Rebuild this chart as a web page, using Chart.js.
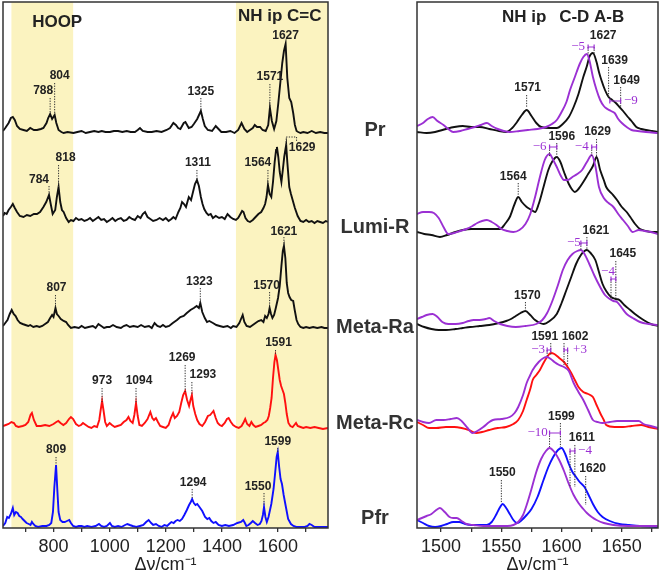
<!DOCTYPE html>
<html>
<head>
<meta charset="utf-8">
<script src="https://cdn.jsdelivr.net/npm/chart.js@4.4.1/dist/chart.umd.min.js"></script>
<style>
html, body { margin: 0; padding: 0; background: #fff; }
#wrap { position: relative; width: 661px; height: 574px; }
#left { position: absolute; left: 0; top: 0; }
#right { position: absolute; left: 330px; top: 0; }
</style>
</head>
<body>
<div id="wrap">
<canvas id="left" width="330" height="574"></canvas>
<canvas id="right" width="331" height="574"></canvas>
</div>
<script>
// ---- data: [wavenumber, intensity] pairs ----
const prLeft = [[620,2],[628,5],[640,10],[648,15],[655,16],[662,13],[670,7],[680,4],[693,3],[705,2],[717,5],[730,3],[741,3],[755,4],[764,5],[775,10],[781,15],[788,19],[795,14],[804,18],[810,10],[818,3],[828,1],[836,0],[850,1],[871,0],[885,1],[900,2],[915,0],[930,1],[945,2],[960,1],[972,2],[985,1],[1001,1],[1015,2],[1030,2],[1045,1],[1061,2],[1075,1],[1090,1],[1100,3],[1108,5],[1118,2],[1135,1],[1150,1],[1167,2],[1185,1],[1203,3],[1215,5],[1227,10],[1236,8],[1244,5],[1252,4],[1264,10],[1270,11],[1282,5],[1292,6],[1300,9],[1312,14],[1325,22],[1332,14],[1339,7],[1350,3],[1365,2],[1378,7],[1388,4],[1398,1],[1415,1],[1430,2],[1445,0],[1458,3],[1470,10],[1480,4],[1490,1],[1500,3],[1510,5],[1517,8],[1525,6],[1536,6],[1545,3],[1556,2],[1565,8],[1571,25],[1578,12],[1586,4],[1594,12],[1601,30],[1608,50],[1615,70],[1621,82],[1627,89],[1633,55],[1640,35],[1647,31],[1654,20],[1660,8],[1666,2],[1672,1],[1680,0],[1690,1],[1705,0],[1720,2],[1735,0],[1750,1],[1765,0],[1778,0]];
const lumiLeft = [[620,6],[626,9],[633,8],[640,12],[648,15],[655,18],[662,14],[670,10],[680,6],[693,5],[705,7],[717,6],[730,8],[741,8],[752,10],[764,15],[774,20],[784,27],[790,18],[797,8],[806,12],[812,25],[818,35],[824,20],[830,12],[836,10],[845,4],[854,0],[862,2],[871,1],[880,4],[890,2],[900,3],[910,1],[920,2],[930,4],[940,1],[950,3],[960,5],[970,2],[980,3],[990,0],[1001,2],[1010,4],[1020,1],[1030,3],[1040,4],[1050,1],[1060,2],[1070,5],[1080,3],[1090,2],[1100,6],[1110,4],[1118,8],[1126,10],[1135,5],[1145,3],[1155,1],[1167,2],[1178,4],[1190,2],[1200,4],[1210,1],[1220,3],[1227,5],[1235,3],[1245,10],[1252,14],[1258,20],[1265,18],[1272,15],[1282,25],[1290,22],[1297,30],[1304,38],[1311,42],[1318,36],[1325,25],[1331,18],[1337,13],[1345,9],[1352,7],[1360,8],[1368,4],[1378,6],[1390,4],[1400,5],[1410,3],[1420,8],[1430,5],[1440,3],[1450,2],[1458,4],[1466,8],[1472,11],[1477,10],[1484,4],[1492,1],[1500,0],[1510,2],[1520,5],[1530,8],[1540,10],[1548,14],[1554,18],[1559,25],[1564,37],[1570,28],[1576,25],[1582,40],[1588,60],[1593,72],[1596,75],[1601,65],[1606,50],[1612,40],[1617,52],[1622,65],[1626,72],[1629,77],[1633,60],[1640,35],[1646,28],[1652,22],[1660,14],[1670,6],[1680,1],[1690,0],[1700,2],[1710,0],[1720,1],[1730,-1],[1740,1],[1750,0],[1760,-1],[1770,1],[1778,0]];
const metaRaLeft = [[620,2],[628,5],[636,8],[644,14],[651,18],[658,14],[665,12],[672,8],[681,5],[690,4],[700,3],[710,2],[717,3],[728,1],[740,2],[750,1],[760,2],[770,4],[780,6],[788,10],[795,13],[800,11],[807,20],[812,14],[818,12],[826,9],[836,7],[845,6],[852,3],[862,0],[875,1],[890,0],[900,2],[912,0],[925,1],[940,2],[950,0],[960,4],[970,2],[980,0],[990,1],[1000,1],[1012,3],[1025,1],[1040,0],[1050,2],[1060,3],[1072,1],[1085,2],[1100,1],[1112,3],[1125,1],[1140,2],[1150,0],[1160,5],[1170,2],[1180,1],[1190,3],[1200,1],[1212,2],[1225,5],[1240,8],[1252,11],[1264,12],[1275,15],[1288,18],[1300,20],[1310,22],[1318,20],[1323,25],[1330,16],[1339,10],[1347,6],[1355,7],[1368,5],[1380,3],[1392,2],[1405,1],[1420,2],[1432,0],[1440,2],[1452,1],[1462,5],[1468,9],[1474,13],[1480,6],[1488,2],[1500,1],[1510,3],[1520,5],[1530,7],[1540,8],[1548,6],[1554,12],[1560,10],[1566,14],[1570,20],[1575,14],[1580,10],[1586,13],[1592,20],[1600,30],[1606,42],[1612,62],[1617,77],[1621,82],[1626,70],[1631,45],[1636,35],[1641,31],[1647,28],[1654,27],[1660,17],[1666,8],[1672,4],[1680,1],[1690,0],[1700,1],[1712,0],[1725,1],[1740,0],[1755,1],[1765,0],[1778,0]];
const metaRcLeft = [[620,2],[630,3],[640,4],[650,6],[659,5],[666,2],[675,1],[690,2],[700,3],[710,6],[718,13],[723,15],[730,8],[740,2],[755,2],[770,3],[785,2],[800,4],[810,6],[817,7],[825,5],[835,3],[845,5],[855,9],[862,11],[870,9],[880,4],[890,2],[898,3],[905,5],[915,3],[925,1],[935,0],[945,2],[955,1],[963,8],[968,18],[973,27],[978,18],[984,6],[990,2],[1000,5],[1008,3],[1018,1],[1028,2],[1040,3],[1050,6],[1060,8],[1067,11],[1074,7],[1082,5],[1088,13],[1094,25],[1100,12],[1106,3],[1115,2],[1125,5],[1135,9],[1145,16],[1152,10],[1158,8],[1165,10],[1172,6],[1180,2],[1190,1],[1200,0],[1210,3],[1218,10],[1226,15],[1232,10],[1240,12],[1248,16],[1255,25],[1262,33],[1269,37],[1276,28],[1283,22],[1288,28],[1293,33],[1298,22],[1305,14],[1312,8],[1320,4],[1330,2],[1340,6],[1350,12],[1358,13],[1364,15],[1370,17],[1378,10],[1385,5],[1392,3],[1400,2],[1410,5],[1418,9],[1424,10],[1432,6],[1440,3],[1450,1],[1460,0],[1470,2],[1478,6],[1483,9],[1490,4],[1498,2],[1505,6],[1512,3],[1520,1],[1530,2],[1540,3],[1548,5],[1555,6],[1562,8],[1567,12],[1572,20],[1577,30],[1582,50],[1587,66],[1591,73],[1596,68],[1601,58],[1606,48],[1611,42],[1616,38],[1621,34],[1626,25],[1631,14],[1637,5],[1644,2],[1652,1],[1658,3],[1664,5],[1670,2],[1680,1],[1690,0],[1700,1],[1715,0],[1730,1],[1745,0],[1760,-1],[1778,0]];
const pfrLeft = [[620,1],[628,4],[635,10],[641,9],[648,13],[655,19],[660,12],[666,15],[672,14],[678,11],[684,10],[690,8],[697,6],[704,4],[712,3],[718,2],[723,5],[728,3],[735,1],[745,0],[760,1],[775,1],[785,2],[792,4],[798,15],[803,40],[809,62],[814,35],[818,15],[824,7],[832,5],[840,5],[848,6],[856,7],[862,4],[870,1],[880,0],[890,1],[900,1],[910,0],[920,1],[935,0],[950,1],[962,3],[970,1],[980,0],[990,1],[1001,4],[1008,1],[1018,0],[1030,1],[1042,0],[1055,2],[1063,3],[1072,2],[1082,1],[1095,0],[1108,1],[1120,2],[1130,5],[1139,7],[1148,4],[1155,2],[1165,3],[1175,1],[1185,0],[1195,2],[1205,1],[1212,3],[1220,5],[1228,4],[1235,6],[1242,7],[1250,6],[1258,8],[1266,12],[1275,17],[1283,22],[1289,25],[1294,28],[1300,24],[1306,22],[1312,23],[1320,20],[1330,16],[1340,10],[1348,8],[1355,9],[1362,6],[1370,4],[1378,5],[1388,2],[1400,1],[1412,2],[1425,1],[1440,2],[1455,4],[1468,5],[1476,7],[1482,4],[1487,1],[1495,2],[1503,4],[1510,6],[1518,4],[1527,2],[1535,3],[1541,6],[1546,12],[1550,20],[1555,10],[1560,5],[1566,10],[1576,23],[1584,38],[1590,55],[1595,70],[1599,75],[1604,60],[1609,48],[1614,43],[1620,32],[1628,20],[1636,8],[1646,3],[1655,1],[1665,0],[1680,0],[1695,0],[1705,1],[1712,3],[1720,2],[1730,0],[1745,0],[1760,0],[1778,0]];

const prRight = [[1480,0],[1488,-1],[1495,0],[1504,3],[1511,5],[1518,6],[1525,5],[1532,5],[1540,3],[1548,1],[1554,0],[1559,4],[1563,10],[1567,17],[1571,22],[1575,16],[1579,9],[1583,5],[1590,4],[1596,4],[1601,8],[1606,15],[1610,25],[1614,38],[1618,55],[1621,66],[1623,75],[1626,79],[1629,70],[1631,60],[1633,52],[1636,42],[1639,35],[1642,32],[1645,29],[1648,25],[1651,21],[1655,15],[1658,11],[1662,5],[1666,3],[1670,2],[1675,1],[1680,0]];
const prRightRef = [[1480,6],[1485,9],[1489,13],[1493,15],[1497,11],[1502,7],[1506,3],[1510,0],[1516,1],[1522,3],[1528,5],[1533,7],[1538,9],[1542,6],[1547,3],[1552,1],[1557,0],[1565,1],[1572,2],[1580,3],[1587,5],[1592,8],[1596,12],[1600,20],[1604,30],[1607,42],[1611,55],[1615,68],[1618,75],[1621,78],[1623,72],[1626,55],[1629,42],[1632,32],[1635,26],[1638,23],[1641,21],[1644,19],[1647,13],[1650,9],[1654,5],[1658,2],[1663,1],[1670,0],[1680,-1]];
const lumiRight = [[1480,0],[1486,-2],[1492,-3],[1499,-5],[1505,-3],[1512,0],[1518,2],[1525,3],[1532,3],[1540,3],[1549,3],[1553,8],[1557,15],[1561,28],[1564,35],[1567,30],[1571,25],[1575,22],[1578,20],[1581,28],[1585,45],[1589,62],[1592,70],[1596,75],[1599,70],[1602,60],[1606,48],[1609,42],[1611,40],[1614,43],[1618,50],[1622,58],[1626,66],[1629,75],[1632,62],[1635,52],[1637,45],[1642,38],[1646,32],[1650,25],[1654,20],[1657,15],[1661,8],[1665,3],[1670,1],[1675,0],[1680,0]];
const lumiRightRef = [[1480,18],[1485,20],[1490,20],[1494,19],[1498,14],[1502,5],[1506,-2],[1511,-1],[1516,1],[1521,3],[1526,6],[1530,9],[1534,11],[1538,12],[1542,10],[1546,7],[1550,3],[1555,1],[1560,0],[1565,2],[1570,8],[1574,18],[1578,35],[1582,55],[1586,72],[1590,78],[1593,72],[1596,65],[1599,57],[1602,52],[1605,52],[1609,55],[1613,58],[1617,62],[1621,70],[1625,77],[1628,66],[1631,45],[1635,34],[1639,29],[1643,25],[1647,18],[1651,12],[1655,6],[1659,0],[1664,2],[1669,1],[1674,0],[1680,-2]];
const metaRaRight = [[1480,3],[1486,0],[1492,-2],[1498,-3],[1504,-3],[1512,-2],[1518,-1],[1524,0],[1532,1],[1540,2],[1548,4],[1554,6],[1558,8],[1562,11],[1566,14],[1570,16],[1574,12],[1578,7],[1582,4],[1585,3],[1590,6],[1596,13],[1600,24],[1604,37],[1608,50],[1612,63],[1616,72],[1619,76],[1621,77],[1624,74],[1628,67],[1631,55],[1634,43],[1637,36],[1641,30],[1645,28],[1648,27],[1652,22],[1657,17],[1662,12],[1668,7],[1674,3],[1680,1]];
const metaRaRightRef = [[1480,8],[1484,10],[1488,12],[1493,13],[1497,10],[1501,5],[1506,3],[1512,3],[1518,4],[1523,6],[1527,7],[1532,7],[1537,8],[1540,9],[1544,6],[1549,3],[1555,1],[1562,0],[1570,1],[1579,3],[1584,7],[1588,14],[1592,25],[1597,42],[1601,57],[1605,67],[1609,73],[1613,76],[1616,77],[1619,73],[1623,63],[1627,52],[1632,40],[1636,32],[1640,28],[1643,26],[1646,25],[1650,19],[1654,13],[1659,9],[1665,5],[1672,3],[1680,2]];
const metaRcRight = [[1480,3],[1485,0],[1490,-3],[1496,-3],[1504,-2],[1511,-2],[1517,-3],[1523,-5],[1529,-8],[1534,-7],[1540,-5],[1547,-3],[1554,-2],[1560,1],[1564,5],[1568,14],[1571,25],[1574,36],[1576,45],[1579,50],[1582,55],[1585,62],[1588,68],[1591,72],[1594,71],[1598,67],[1602,63],[1605,58],[1608,52],[1611,45],[1614,38],[1618,33],[1622,31],[1626,28],[1629,20],[1632,12],[1635,5],[1637,0],[1644,-2],[1651,-2],[1658,-1],[1666,0],[1672,-2],[1680,-4]];
const metaRcRightRef = [[1480,5],[1485,3],[1490,2],[1496,5],[1502,5],[1508,6],[1513,7],[1517,4],[1522,-3],[1526,-8],[1530,-6],[1535,-2],[1540,3],[1543,5],[1550,6],[1557,8],[1561,12],[1564,18],[1568,30],[1571,42],[1574,50],[1576,55],[1581,63],[1585,67],[1588,68],[1591,66],[1594,63],[1598,60],[1602,58],[1606,54],[1610,42],[1614,33],[1618,25],[1622,15],[1626,5],[1630,3],[1634,2],[1640,3],[1646,4],[1652,4],[1658,4],[1664,4],[1668,1],[1674,-1],[1680,-3]];
const pfrRight = [[1480,7],[1485,4],[1490,1],[1495,0],[1500,1],[1505,3],[1510,5],[1515,5],[1520,3],[1525,2],[1532,2],[1538,2],[1542,5],[1546,13],[1549,20],[1551,23],[1554,19],[1557,13],[1560,7],[1563,4],[1567,7],[1571,12],[1575,18],[1580,30],[1585,47],[1589,60],[1593,70],[1597,77],[1600,79],[1603,73],[1606,63],[1609,55],[1612,50],[1615,45],[1619,40],[1622,33],[1626,23],[1630,15],[1634,10],[1640,6],[1648,3],[1656,2],[1665,1],[1680,0]];
const pfrRightRef = [[1480,7],[1484,9],[1488,11],[1492,13],[1496,17],[1499,19],[1503,15],[1507,10],[1510,9],[1513,9],[1517,6],[1521,3],[1527,2],[1535,1],[1545,1],[1555,1],[1560,2],[1564,5],[1568,12],[1571,22],[1575,38],[1579,55],[1583,68],[1587,76],[1590,79],[1594,75],[1598,67],[1602,56],[1606,43],[1610,32],[1614,24],[1618,18],[1621,14],[1625,10],[1629,7],[1635,4],[1643,2],[1655,1],[1665,1],[1680,1]];

const states = ['Pr', 'Lumi-R', 'Meta-Ra', 'Meta-Rc', 'Pfr'];
const leftTicks = [700, 800, 900, 1000, 1100, 1200, 1300, 1400, 1500, 1600, 1700];
const leftTickLabels = [800, 1000, 1200, 1400, 1600];
const rightTicks = [1500, 1525, 1550, 1575, 1600, 1625, 1650, 1675];
const rightTickLabels = [1500, 1550, 1600, 1650];
const bands = [[650, 870], [1450, 1778]];

// vertical stacking offset of each trace (same units as the y scale: 1 unit = 1 px)
const leftOffsets = [395, 306, 200, 100, 1];
const rightOffsets = [396, 296, 201, 103, 1];
const stateLabelY = [398, 301, 201, 105, 10];

// peak labels: text, wavenumber, label dx (px), label y, dotted line top, dotted line bottom
const leftPeaks = [
  ['788', 788, -7, 437, 430, 414], ['804', 804, 5, 452, 445, 414],
  ['1325', 1325, 0, 436, 430, 417], ['1571', 1571, 0, 451, 444, 420], ['1627', 1627, 0, 492, null, null],
  ['784', 784, -10, 348, 342, 333], ['818', 818, 7, 370, 363, 341],
  ['1311', 1311, 1, 365, 358, 348], ['1564', 1564, -10, 365, 358, 343], ['1629', 1629, 16, 380, null, null],
  ['807', 807, 1, 240, 233, 220], ['1323', 1323, -1, 246, 240, 225],
  ['1570', 1570, -3, 242, 236, 220], ['1621', 1621, 0, 296, 291, 282],
  ['973', 973, 0, 147, 140, 126], ['1094', 1094, 3, 147, 140, 125], ['1269', 1269, -3, 170, 163, 136],
  ['1293', 1293, 11, 153, 146, 133], ['1591', 1591, 3, 185, 178, 173],
  ['809', 809, 0, 78, 71, 63], ['1294', 1294, 1, 45, 39, 30], ['1550', 1550, -6, 41, 35, 23], ['1599', 1599, 0, 86, 80, 76]
];
const rightPeaks = [
  ['1627', 1627, 9, 492, 481, 473], ['1639', 1639, 6, 467, 461, 431], ['1649', 1649, 6, 447, 441, 420],
  ['1571', 1571, 1, 440, 433, 420],
  ['1596', 1596, 5, 391, 385, 371], ['1629', 1629, 1, 396, 389, 371], ['1564', 1564, -5, 351, 345, 333],
  ['1621', 1621, 9, 297, 291, 278], ['1645', 1645, 7, 274, 267, 228], ['1570', 1570, 2, 232, 226, 217],
  ['1591', 1591, -6, 191, 185, 173], ['1602', 1602, 11, 191, 185, 162],
  ['1599', 1599, 1, 111, 105, 81], ['1611', 1611, 7, 90, 83, 41], ['1620', 1620, 7, 59, 52, 23], ['1550', 1550, 1, 55, 48, 25]
];
// extra dotted lines: wavenumber, top, bottom
const rightLines = [[1622, 481, 473], [1590, 381, 371], [1625, 381, 371], [1616, 285, 278], [1641, 249, 228],
  [1588, 178, 172], [1605, 178, 162], [1590, 95, 81], [1607, 77, 41]];
// purple shift brackets: text, from, to, y, label dx from 'from' (px), label y
const rightShifts = [
  ['−5', 1622, 1627, 481, -10, 481], ['−9', 1640, 1649, 427, 21, 427],
  ['−6', 1590, 1596, 381, -10, 381], ['−4', 1625, 1629, 381, -10, 381],
  ['−5', 1616, 1621, 285, -7, 285], ['−4', 1641, 1645, 249, -3, 256],
  ['−3', 1588, 1591, 178, -9, 178], ['+3', 1602, 1605, 178, 16, 178],
  ['−10', 1590, 1599, 95, -12, 95], ['−4', 1607, 1611, 77, 15, 77]
];
// dotted callout for Lumi-R 1629 (from wn, to wn, peak y, top y, end y)
const leftCallouts = [[1629, 1666, 383, 391, 387]];

const SANS = '"Liberation Sans", Arial, sans-serif';
const SERIF = '"Liberation Serif", "Times New Roman", serif';
const PURPLE = '#9b30d3';

function toPoints(s, off) { return s.map(p => ({ x: p[0], y: p[1] + off })); }

function dotted(ctx, x1, y1, x2, y2) {
  ctx.save();
  ctx.strokeStyle = '#333';
  ctx.lineWidth = 1;
  ctx.setLineDash([1.3, 1.3]);
  ctx.beginPath(); ctx.moveTo(x1, y1); ctx.lineTo(x2, y2); ctx.stroke();
  ctx.restore();
}

function drawPeaks(chart, peaks) {
  const ctx = chart.ctx, xs = chart.scales.x, ys = chart.scales.y;
  peaks.forEach(p => {
    const x = xs.getPixelForValue(p[1]);
    if (p[4] !== null) dotted(ctx, x, ys.getPixelForValue(p[4]), x, ys.getPixelForValue(p[5]));
    ctx.save();
    ctx.fillStyle = '#222';
    ctx.font = 'bold 12px ' + SANS;
    ctx.textAlign = 'center'; ctx.textBaseline = 'middle';
    ctx.fillText(p[0], x + p[2], ys.getPixelForValue(p[3]));
    ctx.restore();
  });
}

function frame(chart) {
  const a = chart.chartArea, ctx = chart.ctx;
  ctx.save();
  ctx.strokeStyle = '#333';
  ctx.lineWidth = 1.5;
  ctx.strokeRect(a.left, a.top, a.right - a.left, a.bottom - a.top);
  ctx.restore();
}

function header(chart, text, wn, y) {
  const ctx = chart.ctx;
  ctx.save();
  ctx.fillStyle = '#222';
  ctx.font = 'bold 17px ' + SANS;
  ctx.textAlign = 'center'; ctx.textBaseline = 'middle';
  ctx.fillText(text, chart.scales.x.getPixelForValue(wn), chart.scales.y.getPixelForValue(y));
  ctx.restore();
}

const leftPlugin = {
  id: 'leftDeco',
  beforeDatasetsDraw(chart) {
    const ctx = chart.ctx, a = chart.chartArea, xs = chart.scales.x;
    ctx.save();
    ctx.fillStyle = 'rgb(251,243,192)';
    bands.forEach(b => {
      const x1 = xs.getPixelForValue(b[0]), x2 = Math.min(xs.getPixelForValue(b[1]), a.right);
      ctx.fillRect(x1, a.top, x2 - x1, a.bottom - a.top);
    });
    ctx.restore();
  },
  afterDatasetsDraw(chart) {
    const ctx = chart.ctx, xs = chart.scales.x, ys = chart.scales.y;
    frame(chart);
    header(chart, 'HOOP', 813, 506);
    header(chart, 'NH ip C=C', 1606, 512);
    drawPeaks(chart, leftPeaks);
    leftCallouts.forEach(c => {
      const x1 = xs.getPixelForValue(c[0]), x2 = xs.getPixelForValue(c[1]);
      const y0 = ys.getPixelForValue(c[2]), yt = ys.getPixelForValue(c[3]), ye = ys.getPixelForValue(c[4]);
      dotted(ctx, x1, y0, x1, yt);
      dotted(ctx, x1, yt, x2, yt);
      dotted(ctx, x2, yt, x2, ye);
    });
  }
};

const rightPlugin = {
  id: 'rightDeco',
  afterDatasetsDraw(chart) {
    const ctx = chart.ctx, xs = chart.scales.x, ys = chart.scales.y;
    frame(chart);
    header(chart, 'NH ip', 1569, 511);
    header(chart, 'C-D A-B', 1625, 511);
    drawPeaks(chart, rightPeaks);
    rightLines.forEach(l => {
      const x = xs.getPixelForValue(l[0]);
      dotted(ctx, x, ys.getPixelForValue(l[1]), x, ys.getPixelForValue(l[2]));
    });
    rightShifts.forEach(s => {
      const x1 = xs.getPixelForValue(s[1]), x2 = xs.getPixelForValue(s[2]), y = ys.getPixelForValue(s[3]);
      ctx.save();
      ctx.strokeStyle = PURPLE; ctx.lineWidth = 1.2;
      ctx.beginPath();
      ctx.moveTo(x1, y); ctx.lineTo(x2, y);
      ctx.moveTo(x1, y - 2.5); ctx.lineTo(x1, y + 2.5);
      ctx.moveTo(x2, y - 2.5); ctx.lineTo(x2, y + 2.5);
      ctx.stroke();
      ctx.fillStyle = PURPLE;
      ctx.font = '13px ' + SERIF;
      ctx.textAlign = 'center'; ctx.textBaseline = 'middle';
      ctx.fillText(s[0], x1 + s[4], ys.getPixelForValue(s[5]));
      ctx.restore();
    });
    // state names between the two panels
    ctx.save();
    ctx.fillStyle = '#333';
    ctx.font = 'bold 20px ' + SANS;
    ctx.textAlign = 'center'; ctx.textBaseline = 'middle';
    states.forEach((t, i) => ctx.fillText(t, 45, ys.getPixelForValue(stateLabelY[i])));
    ctx.restore();
  }
};

function xAxis(min, max, ticks, labels) {
  return {
    type: 'linear', min: min, max: max,
    afterFit: s => { s.height = 46; },
    afterBuildTicks: s => { s.ticks = ticks.map(v => ({ value: v })); },
    ticks: {
      autoSkip: false, maxRotation: 0, padding: 4, color: '#222',
      font: { family: SANS, size: 18 },
      callback: v => labels.includes(v) ? String(v) : ''
    },
    grid: { drawOnChartArea: false, drawTicks: true, tickLength: 4, color: '#333', lineWidth: 1.3 },
    border: { display: false },
    title: { display: true, text: 'Δν/cm⁻¹', color: '#222', padding: 0, font: { family: SANS, size: 18, lineHeight: 1 } }
  };
}

function baseOptions(pad, min, max, ticks, labels) {
  return {
    responsive: false, animation: false,
    layout: { padding: pad },
    plugins: { legend: { display: false }, tooltip: { enabled: false } },
    elements: { point: { radius: 0 } },
    scales: {
      x: xAxis(min, max, ticks, labels),
      y: { display: false, min: 0, max: 526 }
    }
  };
}

const leftSpectra = [prLeft, lumiLeft, metaRaLeft, metaRcLeft, pfrLeft];
const leftColors = ['#111', '#111', '#111', '#ff1010', '#1010ff'];

new Chart(document.getElementById('left'), {
  type: 'line',
  data: {
    datasets: leftSpectra.map((s, i) => ({
      data: toPoints(s, leftOffsets[i]),
      borderColor: leftColors[i], borderWidth: 1.9, tension: 0, fill: false
    }))
  },
  options: baseOptions({ left: 3, right: 2, top: 2, bottom: 0 }, 620, 1778, leftTicks, leftTickLabels),
  plugins: [leftPlugin]
});

const rightSample = [prRight, lumiRight, metaRaRight, metaRcRight, pfrRight];
const rightRef = [prRightRef, lumiRightRef, metaRaRightRef, metaRcRightRef, pfrRightRef];
const rightColors = ['#111', '#111', '#111', '#ff1010', '#1010ff'];

const rightSets = [];
rightRef.forEach((s, i) => rightSets.push({
  data: toPoints(s, rightOffsets[i]), borderColor: PURPLE, borderWidth: 1.9,
  cubicInterpolationMode: 'monotone', fill: false
}));
rightSample.forEach((s, i) => rightSets.push({
  data: toPoints(s, rightOffsets[i]), borderColor: rightColors[i], borderWidth: 1.9,
  cubicInterpolationMode: 'monotone', fill: false
}));

new Chart(document.getElementById('right'), {
  type: 'line',
  data: { datasets: rightSets },
  options: baseOptions({ left: 87, right: 3, top: 2, bottom: 0 }, 1480, 1680, rightTicks, rightTickLabels),
  plugins: [rightPlugin]
});
</script>
</body>
</html>
